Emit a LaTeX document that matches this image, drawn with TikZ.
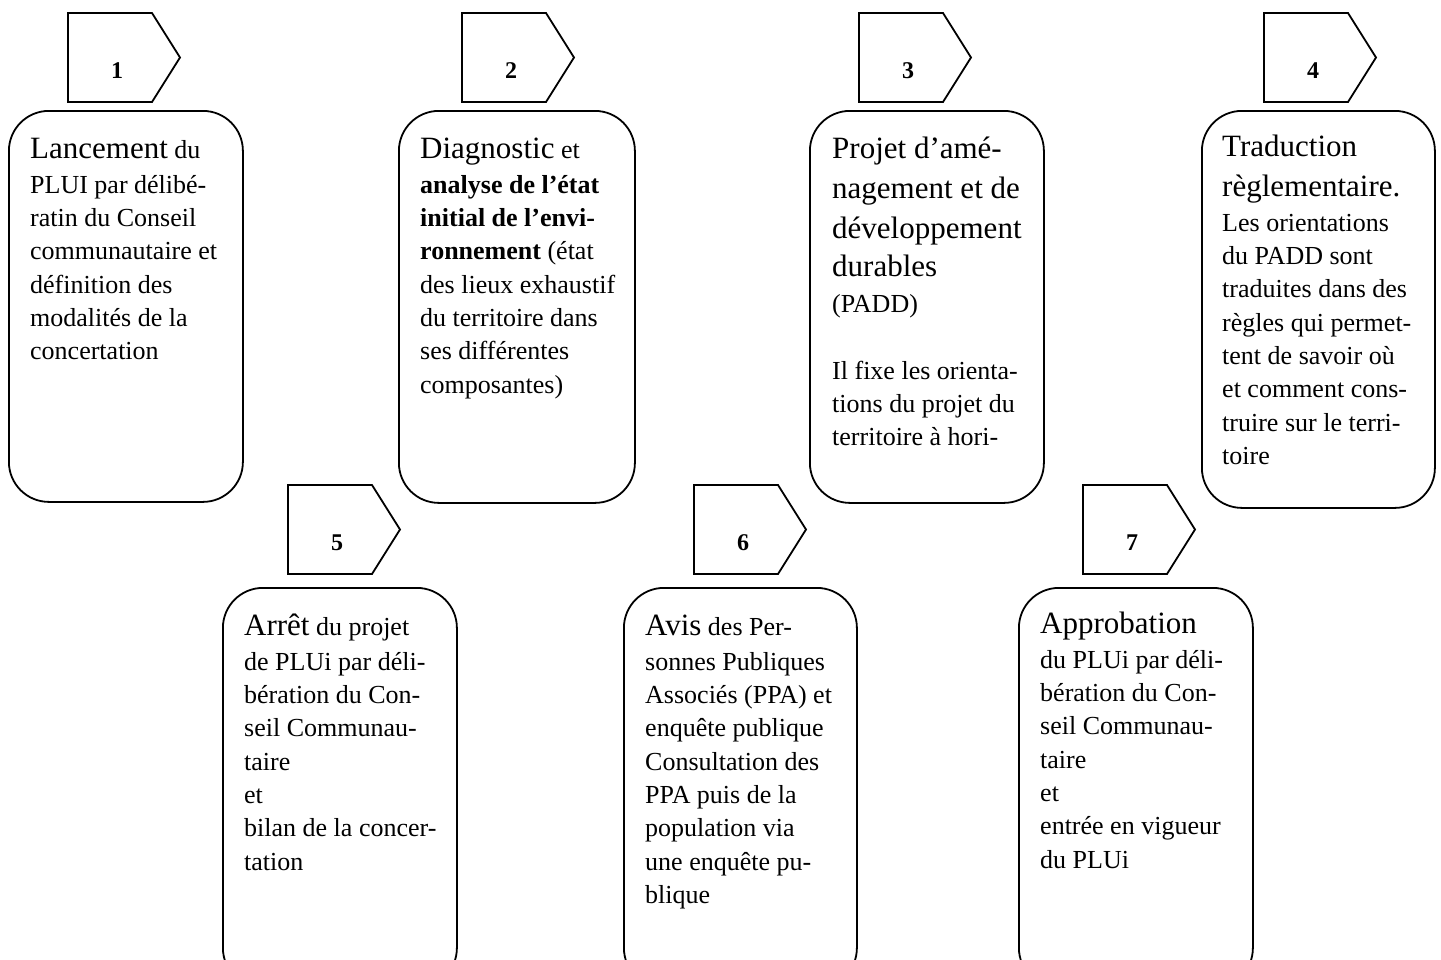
\documentclass[tikz,border=0pt]{standalone}
\usepackage{fontspec}
\setmainfont{Liberation Serif}
\newcommand\hdf{\fontsize{31}{31}\selectfont}
\newcommand\smf{\fontsize{26}{33.3}\selectfont}
\newcommand\rowline[1]{\hbox{#1}}
\newcommand\gap[1]{\vskip #1pt}
\tikzset{
  boxst/.style={draw, line width=1.8pt, rounded corners=40pt, anchor=north west, minimum width=234pt, inner sep=0pt},
  tagline/.style={draw, line width=1.8pt, line join=miter},
  txt/.style={anchor=base west, inner sep=0pt},
  numst/.style={anchor=base, inner sep=0pt, font=\bfseries\fontsize{24}{24}\selectfont}
}
\newcommand\tagshape[4]{%
  \coordinate (#1) at (#2,#3);
  \draw[tagline] (#1) -- ++(84,0) -- ++(28,44.5) -- ++(-28,44.5) -- ++(-84,0) -- cycle;
  \node[numst] (#1n) at ($(#1)+(49,65)$) {#4};
}
\usetikzlibrary{calc}
\begin{document}
\begin{tikzpicture}[x=1pt,y=-1pt]
\useasboundingbox (0,0) rectangle (1441,959);
\clip (0,0) rectangle (1441,959);
% tags
\tagshape{p1}{68}{13}{1}
\tagshape{p2}{462}{13}{2}
\tagshape{p3}{859}{13}{3}
\tagshape{p4}{1264}{13}{4}
\tagshape{p5}{288}{485}{5}
\tagshape{p6}{694}{485}{6}
\tagshape{p7}{1083}{485}{7}
% boxes
\node[boxst, minimum height=391pt] (b1) at (8,110) {};
\node[boxst, minimum height=392pt, minimum width=236pt] (b2) at (398,110) {};
\node[boxst, minimum height=392pt] (b3) at (809,110) {};
\node[boxst, minimum height=397pt, minimum width=233pt] (b4) at (1201,110) {};
\node[boxst, minimum height=400pt] (b5) at (222,587) {};
\node[boxst, minimum height=400pt, minimum width=233pt] (b6) at (623,587) {};
\node[boxst, minimum height=400pt] (b7) at (1018,587) {};
% texts
\node[txt] (t1) at (30,158) {\vtop{\smf
  \rowline{{\hdf Lancement} du}\gap{2}
  \rowline{PLUI par délibé-}
  \rowline{ratin du Conseil}
  \rowline{communautaire et}
  \rowline{définition des}
  \rowline{modalités de la}
  \rowline{concertation}}};
\node[txt] (t2) at (420,158) {\vtop{\smf
  \rowline{{\hdf Diagnostic} et}\gap{2}
  \rowline{\bfseries analyse de l’état}
  \rowline{\bfseries initial de l’envi-}
  \rowline{{\bfseries ronnement} (état}
  \rowline{des lieux exhaustif}
  \rowline{du territoire dans}
  \rowline{ses différentes}
  \rowline{composantes)}}};
\node[txt] (t3) at (832,158) {\vtop{\smf
  \rowline{\hdf Projet d’amé-}\gap{6.7}
  \rowline{\hdf nagement et de}\gap{6.7}
  \rowline{\hdf développement}\gap{5}
  \rowline{\hdf durables}\gap{3}
  \rowline{(PADD)}
  \rowline{\strut}
  \rowline{Il fixe les orienta-}
  \rowline{tions du projet du}
  \rowline{territoire à hori-}}};
\node[txt] (t4) at (1222,156) {\vtop{\smf
  \rowline{\hdf Traduction}\gap{6.7}
  \rowline{\hdf règlementaire.}\gap{2}
  \rowline{Les orientations}
  \rowline{du PADD sont}
  \rowline{traduites dans des}
  \rowline{règles qui permet-}
  \rowline{tent de savoir où}
  \rowline{et comment cons-}
  \rowline{truire sur le terri-}
  \rowline{toire}}};
\node[txt] (t5) at (244,635) {\vtop{\smf
  \rowline{{\hdf Arrêt} du projet}\gap{2}
  \rowline{de PLUi par déli-}
  \rowline{bération du Con-}
  \rowline{seil Communau-}
  \rowline{taire}
  \rowline{et}
  \rowline{bilan de la concer-}
  \rowline{tation}}};
\node[txt] (t6) at (645,635) {\vtop{\smf
  \rowline{{\hdf Avis} des Per-}\gap{2}
  \rowline{sonnes Publiques}
  \rowline{Associés (PPA) et}
  \rowline{enquête publique}
  \rowline{Consultation des}
  \rowline{PPA puis de la}
  \rowline{population via}
  \rowline{une enquête pu-}
  \rowline{blique}}};
\node[txt] (t7) at (1040,633) {\vtop{\smf
  \rowline{\hdf Approbation}\gap{2}
  \rowline{du PLUi par déli-}
  \rowline{bération du Con-}
  \rowline{seil Communau-}
  \rowline{taire}
  \rowline{et}
  \rowline{entrée en vigueur}
  \rowline{du PLUi}}};
\end{tikzpicture}
\end{document}
